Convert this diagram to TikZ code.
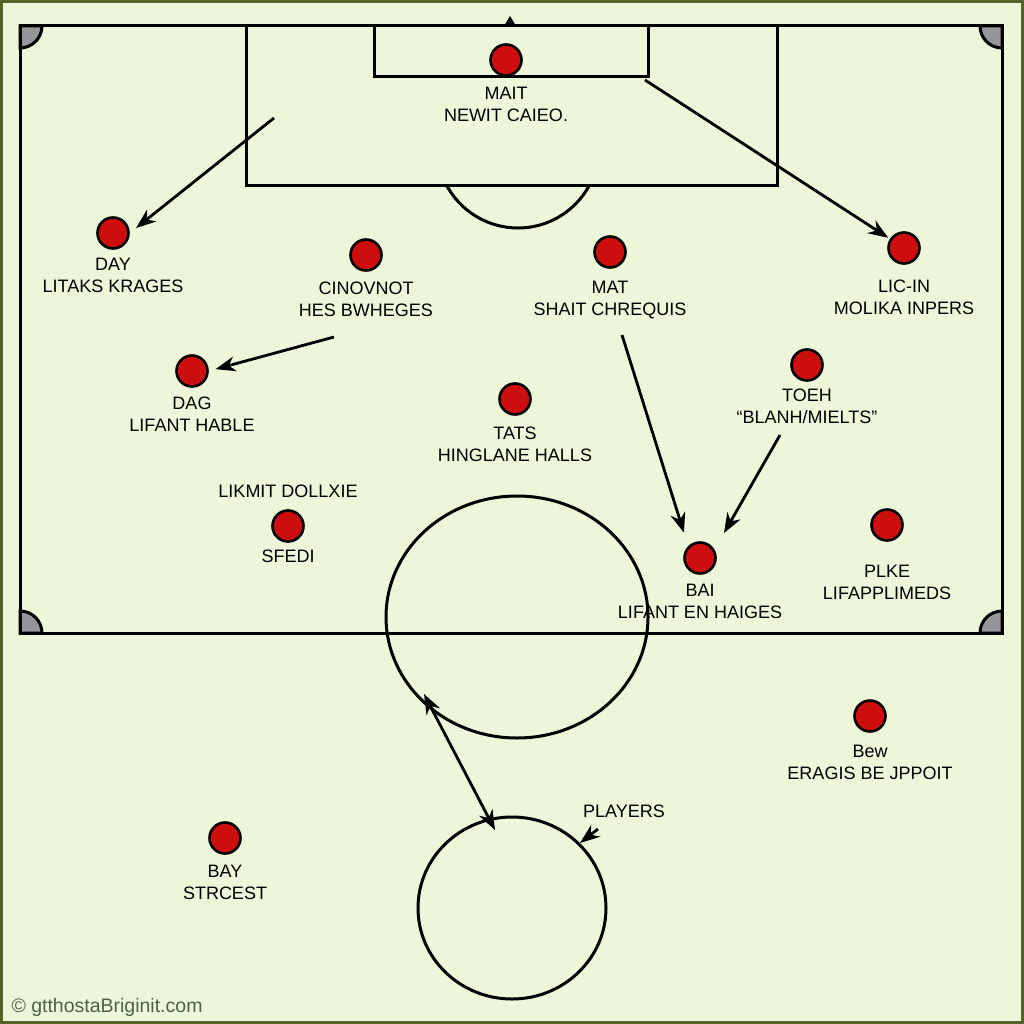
\documentclass[tikz,border=0pt]{standalone}
\usepackage{fontspec}
\setmainfont{Liberation Sans}
\usetikzlibrary{arrows.meta}
\definecolor{grass}{RGB}{236,247,217}
\definecolor{edge}{RGB}{82,100,38}
\definecolor{dotred}{RGB}{206,14,14}
\definecolor{flag}{RGB}{150,150,154}
\definecolor{stamp}{RGB}{80,96,66}
\tikzset{
  man/.style={circle,draw=black,line width=2.6pt,fill=dotred,minimum size=31pt,inner sep=0pt},
  tag/.style={font=\fontsize{18}{22}\selectfont,align=center,inner sep=0pt,text=black},
  run/.style={line width=2.8pt,->},
  >={Stealth[length=20pt,width=15pt]},
}
\begin{document}
\begin{tikzpicture}[x=1pt,y=-1pt,line width=3pt,label distance=9pt]
  \def\r{22pt}
  \useasboundingbox (0,0) rectangle (1024,1024);
  \fill[grass] (0,0) rectangle (1024,1024);
  \draw[edge,line width=3.5pt] (1.5,1.5) rectangle (1022.5,1022.5);
  \filldraw[fill=flag] (20,26) -- ++(0:\r) arc[start angle=0,end angle=-90,radius=\r] -- cycle;
  \filldraw[fill=flag] (1002,26) -- ++(180:\r) arc[start angle=180,end angle=270,radius=\r] -- cycle;
  \filldraw[fill=flag] (20,633) -- ++(0:\r) arc[start angle=0,end angle=90,radius=\r] -- cycle;
  \filldraw[fill=flag] (1002,633) -- ++(180:\r) arc[start angle=180,end angle=90,radius=\r] -- cycle;
  \draw (20,26) rectangle (1002,633);
  \draw (246,26) rectangle (777,186);
  \draw (374,26) rectangle (648,77);
  \draw (518,147) ++(208.8:81pt) arc[start angle=208.8,end angle=331.2,radius=81pt];
  \fill (504,26) -- (510,16) -- (516,26) -- cycle;
  \draw (517,617) ellipse[x radius=131pt,y radius=121pt];
  \draw (512,908) ellipse[x radius=94pt,y radius=91pt];

  \node[man,label={[tag]below:MAIT\\NEWIT CAIEO.}] (mait) at (506,60) {};
  \node[man,label={[tag,label distance=7pt]below:DAY\\LITAKS KRAGES}] (day) at (113,233) {};
  \node[man,label={[tag]below:CINOVNOT\\HES BWHEGES}] (cinovnot) at (366,255) {};
  \node[man,label={[tag,label distance=11pt]below:MAT\\SHAIT CHREQUIS}] (mat) at (610,252) {};
  \node[man,label={[tag,label distance=14pt]below:LIC-IN\\MOLIKA INPERS}] (licin) at (904,248) {};
  \node[man,label={[tag,label distance=8pt]below:DAG\\LIFANT HABLE}] (dag) at (192,371) {};
  \node[man,label={[tag,label distance=10pt]below:TATS\\HINGLANE HALLS}] (tats) at (515,399) {};
  \node[man,label={[tag,label distance=6pt]below:TOEH\\“BLANH/MIELTS”}] (toeh) at (807,365) {};
  \node[man,label={[tag,label distance=10pt]above:LIKMIT DOLLXIE},
        label={[tag,label distance=6pt]below:SFEDI}] (sfedi) at (288,526) {};
  \node[man,label={[tag,label distance=8pt]below:BAI\\LIFANT EN HAIGES}] (bai) at (700,558) {};
  \node[man,label={[tag,label distance=22pt]below:PLKE\\LIFAPPLIMEDS}] (plke) at (887,525) {};
  \node[man,label={[tag,label distance=11pt]below:Bew\\ERAGIS BE JPPOIT}] (bew) at (870,716) {};
  \node[man,label={[tag]below:BAY\\STRCEST}] (bay) at (225,838) {};
  \node[tag] (players) at (624,811) {PLAYERS};
  \node[anchor=west,inner sep=0pt,text=stamp,font=\fontsize{19.5}{22}\selectfont] (stamp) at (10,1007) {© gtthostaBriginit.com};

  \coordinate (a1) at (274,118);
  \coordinate (a2) at (645,80);
  \coordinate (a3) at (334,337);
  \coordinate (a4) at (622,335);
  \coordinate (a5) at (780,435);
  \coordinate (c1) at (424,694);
  \coordinate (c2) at (495,830);
  \coordinate (p1) at (598,829);
  \coordinate (p2) at (580,843);
  \draw[run,shorten >=8pt] (a1) -- (day.east);
  \draw[run,shorten >=2pt] (a2) -- (licin);
  \draw[run,shorten >=7pt] (a3) -- (dag.east);
  \draw[run,shorten >=14pt] (a4) -- (bai.north west);
  \draw[run,shorten >=19pt] (a5) -- (bai.30);
  \draw[run,<->] (c1) -- (c2);
  \draw[run] (p1) -- (p2);
\end{tikzpicture}
\end{document}
